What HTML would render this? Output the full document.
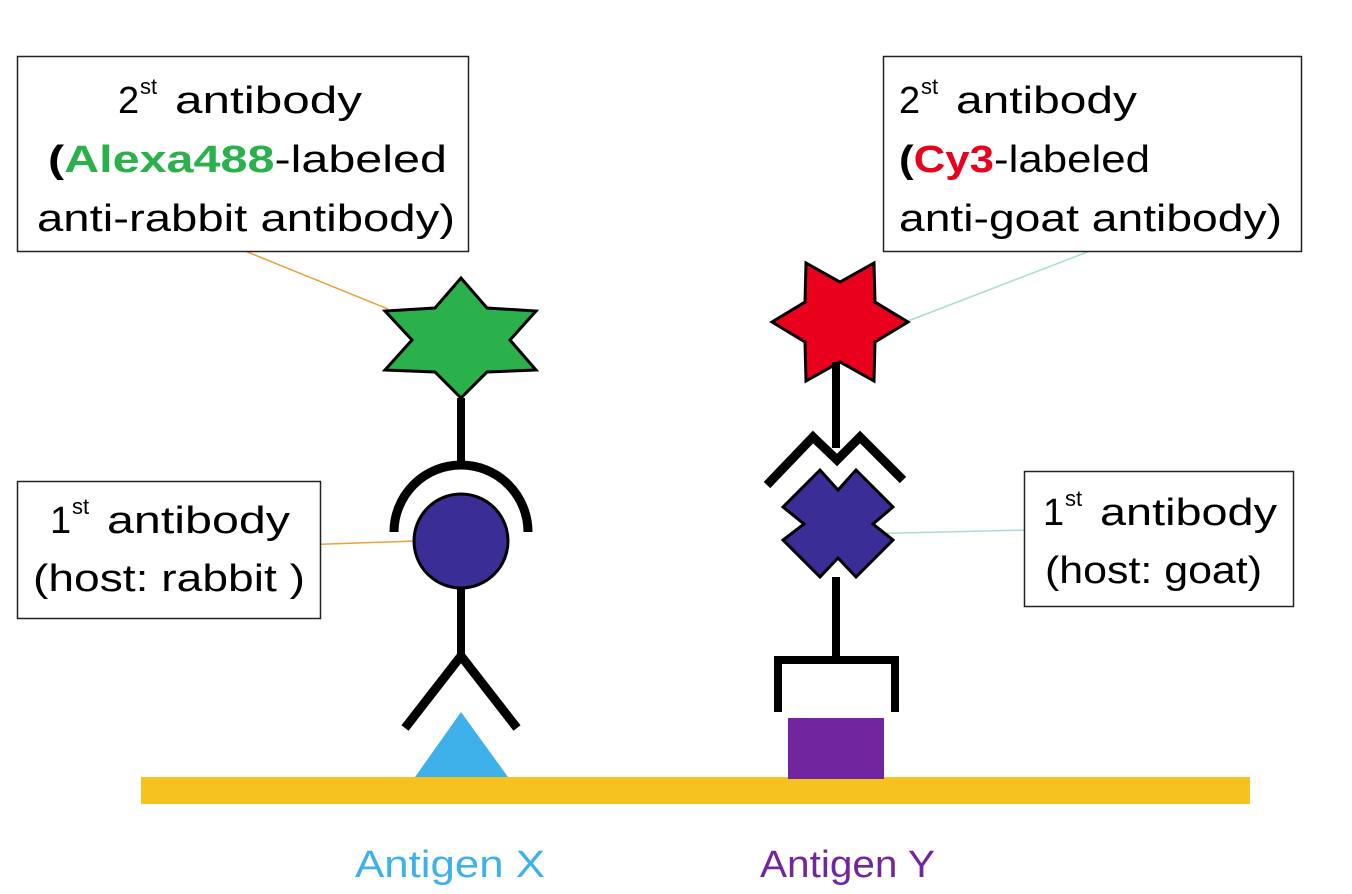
<!DOCTYPE html>
<html><head><meta charset="utf-8"><style>
html,body{margin:0;padding:0;background:#fff;}
svg{display:block;}
text{font-family:"Liberation Sans",sans-serif;font-size:38px;fill:#000;}
.s{font-size:22px;}
</style></head><body>
<svg width="1352" height="894" viewBox="0 0 1352 894" xmlns="http://www.w3.org/2000/svg">
<!-- leader lines -->
<line x1="245" y1="251" x2="388" y2="309" stroke="#e8a33a" stroke-width="1.5"/>
<line x1="300" y1="545" x2="416" y2="541" stroke="#e8a33a" stroke-width="1.5"/>
<line x1="1090" y1="251" x2="908" y2="321" stroke="#a9dcd6" stroke-width="1.5"/>
<line x1="858" y1="534" x2="1030" y2="530" stroke="#a9dcd6" stroke-width="1.5"/>

<!-- boxes -->
<rect x="17.5" y="56.5" width="451" height="195" fill="#fff" stroke="#222" stroke-width="1.5"/>
<rect x="883.5" y="56.5" width="418" height="195" fill="#fff" stroke="#222" stroke-width="1.5"/>
<rect x="17.5" y="481.5" width="303" height="137" fill="#fff" stroke="#222" stroke-width="1.5"/>
<rect x="1024.5" y="471.5" width="269" height="135" fill="#fff" stroke="#222" stroke-width="1.5"/>

<!-- box texts -->
<text x="118" y="113">2</text><text class="s" x="140" y="94">st</text>
<text x="175" y="113" textLength="187" lengthAdjust="spacingAndGlyphs">antibody</text>
<text x="48" y="172" textLength="399" lengthAdjust="spacingAndGlyphs"><tspan font-weight="bold">(</tspan><tspan font-weight="bold" fill="#2bb14b">Alexa488</tspan>-labeled</text>
<text x="37" y="231" textLength="418" lengthAdjust="spacingAndGlyphs">anti-rabbit antibody)</text>

<text x="899" y="113">2</text><text class="s" x="921" y="94">st</text>
<text x="956" y="113" textLength="181" lengthAdjust="spacingAndGlyphs">antibody</text>
<text x="899" y="172" textLength="251" lengthAdjust="spacingAndGlyphs"><tspan font-weight="bold">(</tspan><tspan font-weight="bold" fill="#e8001c">Cy3</tspan>-labeled</text>
<text x="899" y="231" textLength="383" lengthAdjust="spacingAndGlyphs">anti-goat antibody)</text>

<text x="50" y="533">1</text><text class="s" x="72" y="514">st</text>
<text x="107" y="533" textLength="183" lengthAdjust="spacingAndGlyphs">antibody</text>
<text x="33" y="591" textLength="272" lengthAdjust="spacingAndGlyphs">(host: rabbit )</text>

<text x="1043" y="525">1</text><text class="s" x="1065" y="506">st</text>
<text x="1100" y="525" textLength="177" lengthAdjust="spacingAndGlyphs">antibody</text>
<text x="1045" y="583" textLength="217" lengthAdjust="spacingAndGlyphs">(host: goat)</text>

<!-- base bar -->
<rect x="141" y="777" width="1109" height="27" fill="#f6c220"/>

<!-- left assembly -->
<polygon points="461,278 435,308 385,311 412,340 385,370 435,372 461,398 487,372 536,370 510,340 536,311 487,308" fill="#2bb14b" stroke="#000" stroke-width="3" stroke-linejoin="miter"/>
<line x1="461" y1="398" x2="461" y2="466" stroke="#000" stroke-width="8"/>
<path d="M394,532 A67,67 0 0 1 528,532" fill="none" stroke="#000" stroke-width="9"/>
<circle cx="461" cy="541" r="47" fill="#3a2d96" stroke="#000" stroke-width="3"/>
<line x1="461" y1="588" x2="461" y2="656" stroke="#000" stroke-width="8"/>
<polyline points="405,728 461,656 517,728" fill="none" stroke="#000" stroke-width="9"/>
<polygon points="461,712 415,777 508,777" fill="#3eb0ea"/>

<!-- right assembly -->
<polygon points="840,282 874,263 875,302 908,322 875,342 874,381 840,362 806,381 805,342 772,322 805,302 806,263" fill="#e8001c" stroke="#000" stroke-width="3"/>
<line x1="836" y1="362" x2="836" y2="448" stroke="#000" stroke-width="8"/>
<polyline points="767,485 813,437 837,460 860,437 903,480" fill="none" stroke="#000" stroke-width="9"/>
<polygon points="783,507 820,470 838,490 856,470 893,507 873,524 893,540 856,577 838,558 820,577 783,540 804,524" fill="#3a2d96" stroke="#000" stroke-width="3" stroke-linejoin="miter"/>
<line x1="836" y1="577" x2="836" y2="660" stroke="#000" stroke-width="8"/>
<polyline points="778,712 778,660 895,660 895,712" fill="none" stroke="#000" stroke-width="8"/>
<rect x="788" y="718" width="96" height="61" fill="#7126a0"/>

<!-- antigen labels -->
<text x="355" y="877" fill="#3eb0ea" textLength="190" lengthAdjust="spacingAndGlyphs" style="fill:#3eb0ea">Antigen X</text>
<text x="760" y="877" textLength="175" lengthAdjust="spacingAndGlyphs" style="fill:#7126a0">Antigen Y</text>
</svg>
</body></html>
